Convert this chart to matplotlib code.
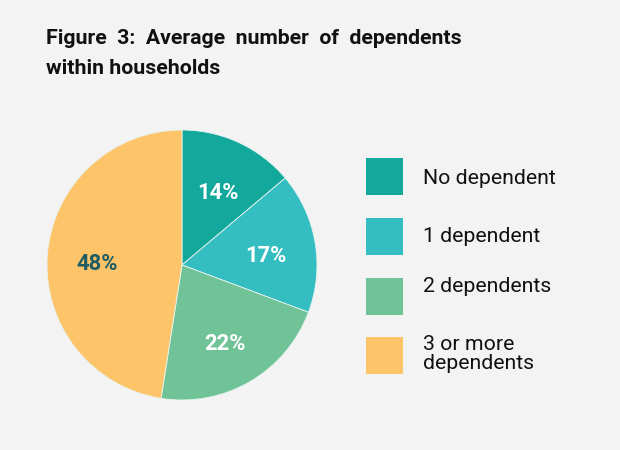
import matplotlib.pyplot as plt
import numpy as np
from matplotlib.patches import Rectangle

# данные диаграммы
categories = ['No dependent', '1 dependent', '2 dependents', '3 or more\ndependents']
shares = [14, 17, 22, 48]
colors = ['#12a89b', '#35bec1', '#6fc396', '#fdc46a']
label_colors = ['white', 'white', 'white', '#1d5c63']

bg = '#f3f3f3'
plt.rcParams['font.family'] = ['Roboto', 'DejaVu Sans']

fig = plt.figure(figsize=(6.2, 4.5), dpi=100, facecolor=bg)

# заголовок (первая строка выровнена по ширине)
fig.text(46 / 620, 1 - 38 / 450, 'Figure  3:  Average  number  of  dependents',
         fontsize=15.3, fontweight='bold', color='#111111', va='center', ha='left')
fig.text(46 / 620, 1 - 68 / 450, 'within households',
         fontsize=15.3, fontweight='bold', color='#111111', va='center', ha='left')

# круговая диаграмма
ax = fig.add_axes([47 / 620, 50 / 450, 270 / 620, 270 / 450])
ax.set_facecolor(bg)
wedges, texts = ax.pie(shares, colors=colors, startangle=90, counterclock=False,
                       radius=1, wedgeprops=dict(linewidth=0.6, edgecolor='#e8f4f0'))
ax.set_xlim(-1, 1)
ax.set_ylim(-1, 1)
ax.set_aspect('equal')
ax.axis('off')

# подписи процентов
for w, val, lc in zip(wedges, shares, label_colors):
    ang = np.deg2rad((w.theta1 + w.theta2) / 2)
    ax.text(0.63 * np.cos(ang), 0.63 * np.sin(ang) - 0.04, f'{val}%', color=lc,
            fontsize=15.8, fontweight='bold', ha='center', va='center')

# легенда вручную
rows_y = [176, 236, 296, 355]
text_y = [178, 236, 287, 354]
for y, ty, cat, c in zip(rows_y, text_y, categories, colors):
    fig.patches.append(Rectangle((366 / 620, 1 - (y + 18.5) / 450), 37 / 620, 37 / 450,
                                 transform=fig.transFigure, facecolor=c, edgecolor='none'))
    fig.text(423 / 620, 1 - ty / 450, cat, fontsize=15.3, color='#111111',
             va='center', ha='left', linespacing=1.0)

fig.savefig('out.png', dpi=100, facecolor=bg)
